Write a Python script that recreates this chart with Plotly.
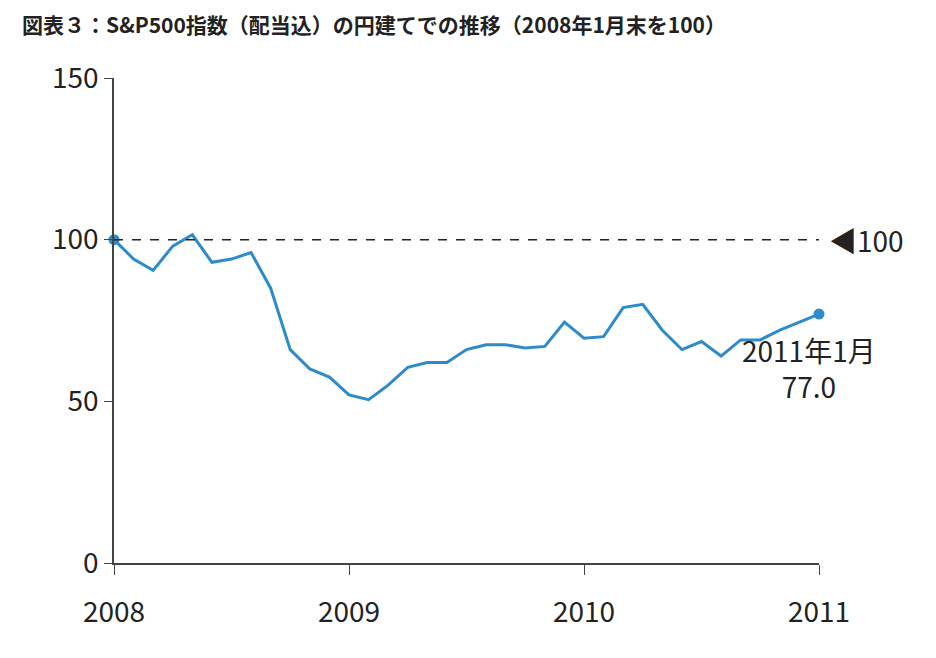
import plotly.graph_objects as go

months = list(range(37))
values = [100, 94, 90.5, 98, 101.5, 93, 94, 96, 85, 66, 60, 57.5, 52, 50.5, 55, 60.5,
          62, 62, 66, 67.5, 67.5, 66.5, 67, 74.5, 69.5, 70, 79, 80, 72, 66, 68.5, 64,
          69, 69, 72, 74.5, 77]
x = [2008 + m / 12 for m in months]
tick_years = [2008, 2009, 2010, 2011]

blue = "#2e8bc9"
fig = go.Figure()
fig.add_trace(go.Scatter(x=x, y=values, mode="lines", line=dict(color=blue, width=3),
                         cliponaxis=False))
fig.add_trace(go.Scatter(x=[x[0], x[-1]], y=[values[0], values[-1]], mode="markers",
                         marker=dict(color=blue, size=11), cliponaxis=False))
fig.add_shape(type="line", x0=2008, x1=2011, y0=100, y1=100,
              line=dict(color="#222", width=1.5, dash="dash"))
fig.add_annotation(x=2011, y=100, text="◀100", showarrow=False, xanchor="left", xshift=8,
                   font=dict(size=28, color="#222"))
fig.add_annotation(x=x[-1], y=values[-1], text="2011年1月<br>77.0", showarrow=False,
                   xanchor="center", yanchor="top", yshift=-14, xshift=-10, align="center",
                   font=dict(size=28, color="#222"))

fig.update_layout(
    width=936, height=658, showlegend=False,
    plot_bgcolor="white", paper_bgcolor="white",
    margin=dict(l=106, r=125, t=70, b=103),
    font=dict(family="Noto Sans CJK JP", color="#222"),
    title=dict(text="<b>図表３：S&P500指数（配当込）の円建てでの推移（2008年1月末を100）</b>",
               x=0.015, xanchor="left", y=0.985, yanchor="top", font=dict(size=21, color="#222")),
    xaxis=dict(range=[2008, 2011], tickvals=tick_years, ticktext=[str(t) for t in tick_years],
               showgrid=False, zeroline=False, showline=True, linecolor="#444", linewidth=1.5,
               ticks="outside", ticklen=10, tickcolor="#444", tickfont=dict(size=28),
               ticklabelstandoff=14),
    yaxis=dict(range=[0, 150], tickvals=[0, 50, 100, 150], showgrid=False, zeroline=False,
               showline=True, linecolor="#444", linewidth=1.5, ticks="outside", ticklen=8,
               tickcolor="#444", tickfont=dict(size=28)),
)
fig.write_html("out.html")
